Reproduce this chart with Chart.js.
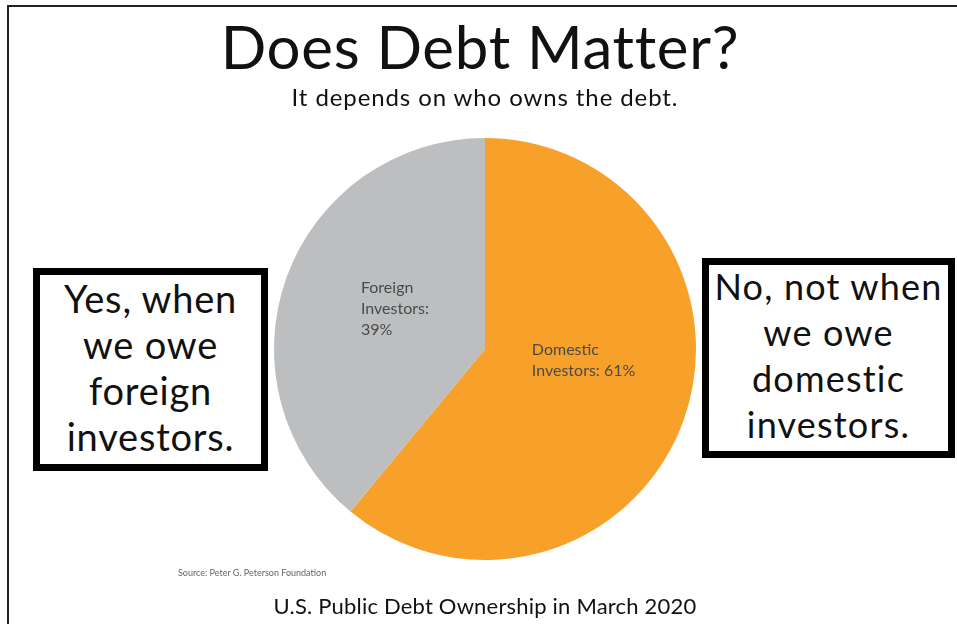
<!DOCTYPE html>
<html>
<head>
<meta charset="utf-8">
<script src="https://cdn.jsdelivr.net/npm/chart.js@4/dist/chart.umd.min.js"></script>
<style>
  html, body { margin: 0; padding: 0; background: #fff; }
  #wrap { position: relative; width: 957px; height: 624px; overflow: hidden; background: #fff; font-family: Lato, "Open Sans", sans-serif; color: #111; }
  #frame { position: absolute; left: 7px; top: 5px; width: 960px; height: 640px; border-left: 2px solid #222; border-top: 2px solid #222; box-sizing: border-box; }
  canvas { position: absolute; left: 0; top: 0; }
  .t { position: absolute; white-space: nowrap; text-align: center; }
  #title { left: 0; width: 960px; top: 10px; font-size: 60px; font-weight: 400; letter-spacing: 0.7px; }
  #subtitle { left: 0; width: 970px; top: 82px; font-size: 24px; letter-spacing: 0.9px; }
  #caption { left: 0; width: 970px; top: 592px; font-size: 22px; letter-spacing: 0.2px; }
  #source { left: 178px; top: 567px; font-size: 9px; color: #666; text-align: left; }
  .box { position: absolute; border: 7px solid #000; background: #fff; box-sizing: border-box; text-align: center; overflow: visible; }
  .box .txt { position: relative; white-space: nowrap; }
  #boxL { left: 33px; top: 268px; width: 235px; height: 203px; font-size: 38px; line-height: 46px; letter-spacing: 0.8px; }
  #boxL .txt { top: 0px; }
  #boxR { left: 702px; top: 258px; width: 253px; height: 200px; font-size: 36px; line-height: 46px; letter-spacing: 1.2px; }
  #boxR .txt { top: -2px; }
</style>
</head>
<body>
<div id="wrap">
  <div id="frame"></div>
  <canvas id="c" width="957" height="624"></canvas>
  <div class="t" id="title">Does Debt Matter?</div>
  <div class="t" id="subtitle">It depends on who owns the debt.</div>
  <div class="box" id="boxL"><div class="txt">Yes, when<br>we owe<br>foreign<br>investors.</div></div>
  <div class="box" id="boxR"><div class="txt">No, not when<br>we owe<br>domestic<br>investors.</div></div>
  <div class="t" id="source">Source: Peter G. Peterson Foundation</div>
  <div class="t" id="caption">U.S. Public Debt Ownership in March 2020</div>
</div>
<script>
// Ownership of U.S. public debt, March 2020 (percent)
const categories = ["Domestic Investors", "Foreign Investors"];
const shares = [61, 39];
const sliceColors = ["#F7A12B", "#BDBEC0"];

// In-slice labels: text lines plus an anchor given in units of the pie radius
const sliceLabels = {
  id: "sliceLabels",
  afterDatasetsDraw(chart, args, opts) {
    const ctx = chart.ctx;
    const arcs = chart.getDatasetMeta(0).data;
    ctx.save();
    ctx.font = opts.font;
    ctx.fillStyle = opts.color;
    ctx.textAlign = "left";
    ctx.textBaseline = "middle";
    arcs.forEach((arc, i) => {
      const p = arc.getProps(["x", "y", "outerRadius"], true);
      const a = opts.anchors[i];
      const lines = opts.lines(i);
      const x0 = p.x + a[0] * p.outerRadius;
      const y0 = p.y + a[1] * p.outerRadius;
      lines.forEach((ln, k) => ctx.fillText(ln, x0, y0 + k * opts.lineHeight));
    });
    ctx.restore();
  }
};

new Chart(document.getElementById("c"), {
  type: "pie",
  data: {
    labels: categories,
    datasets: [{
      data: shares,
      backgroundColor: sliceColors,
      borderWidth: 0
    }]
  },
  options: {
    responsive: false,
    animation: false,
    rotation: 0,
    layout: { padding: { left: 274, top: 138, right: 261, bottom: 64 } },
    plugins: {
      legend: { display: false },
      tooltip: { enabled: false },
      title: { display: false },
      sliceLabels: {
        font: "16px Lato, 'Open Sans', sans-serif",
        color: "#4a4a4a",
        lineHeight: 21,
        anchors: [[0.222, 0.005], [-0.588, -0.29]],
        lines: (i) => i === 0
          ? ["Domestic", "Investors: " + shares[0] + "%"]
          : ["Foreign", "Investors:", shares[1] + "%"]
      }
    }
  },
  plugins: [sliceLabels]
});
</script>
</body>
</html>
